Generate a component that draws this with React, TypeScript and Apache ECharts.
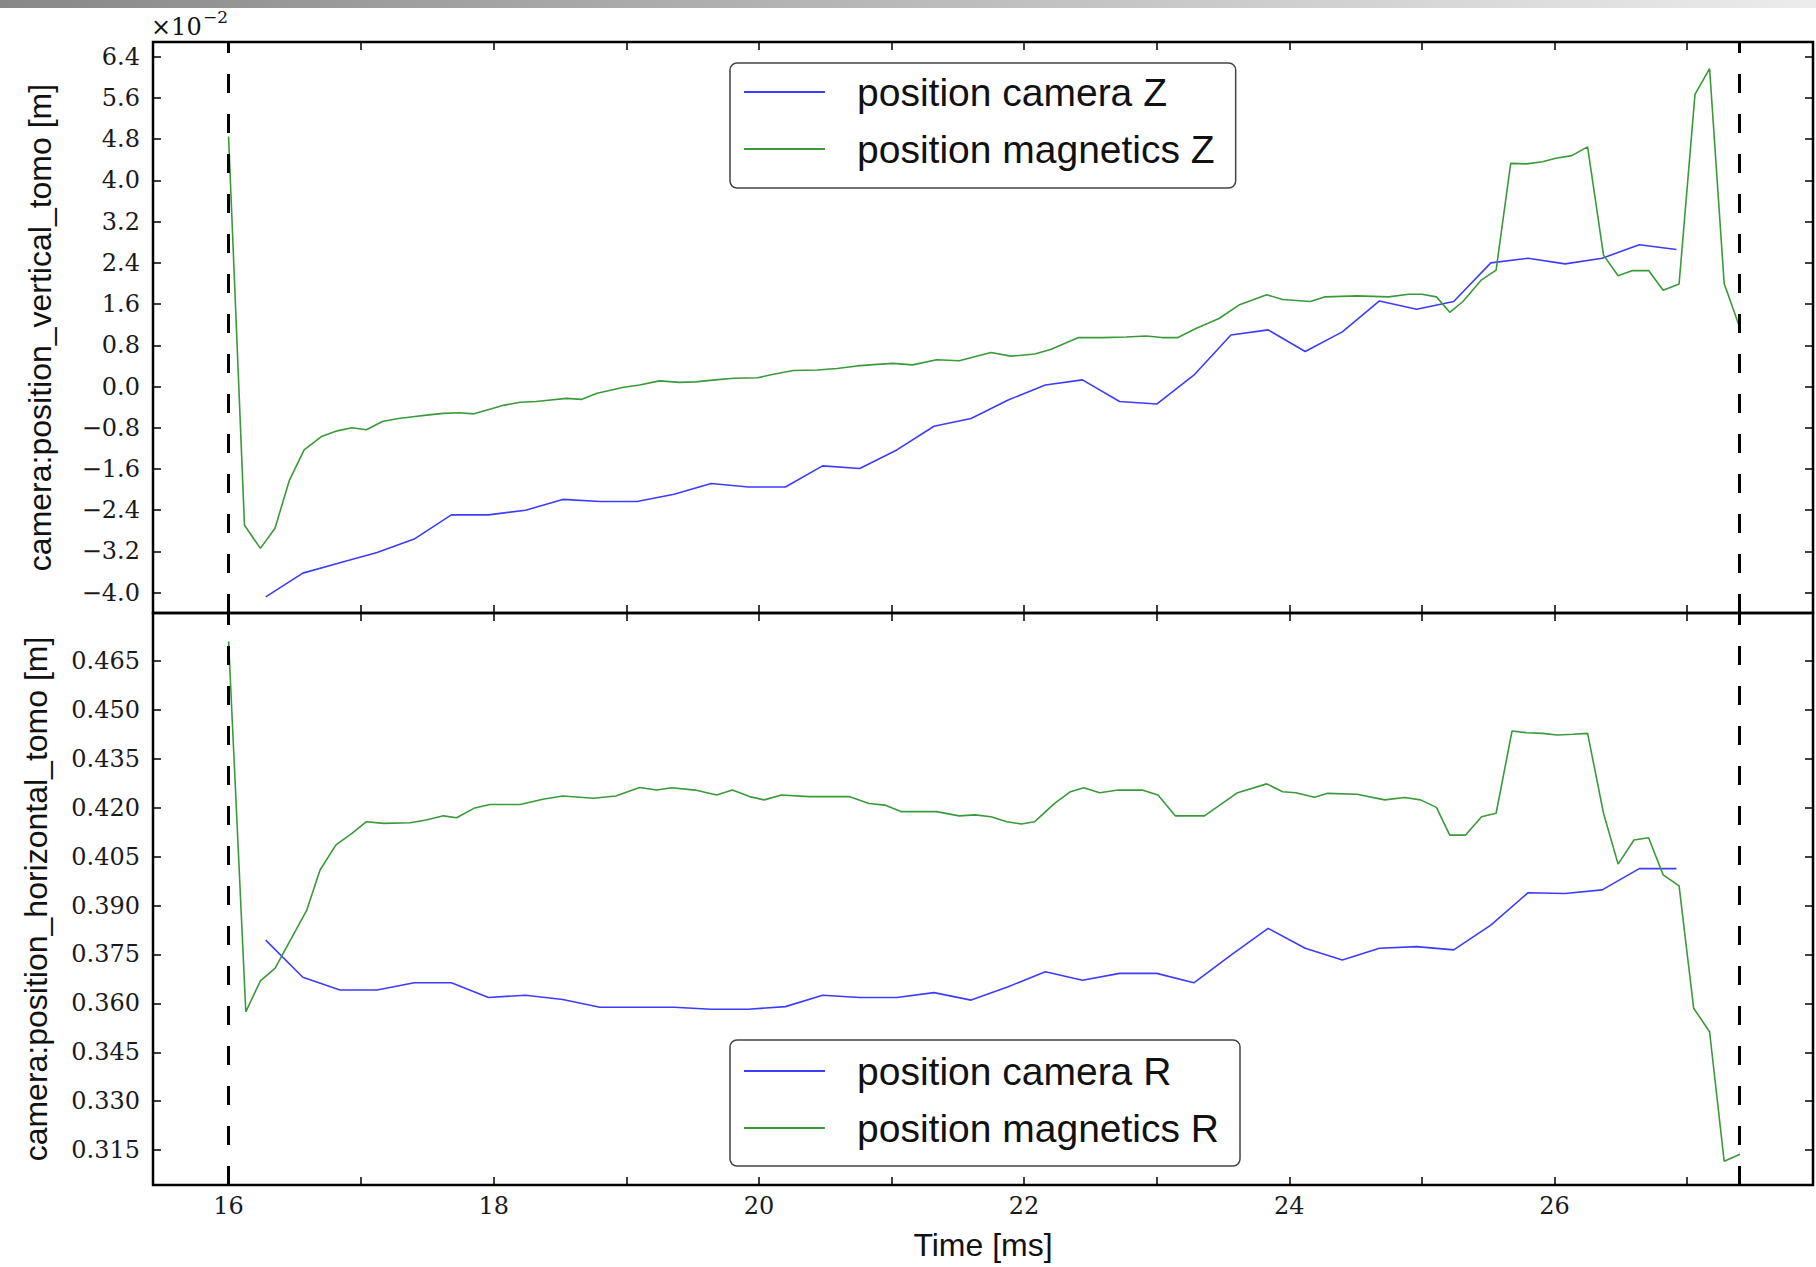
import React, { useEffect, useRef } from "react";
import * as echarts from "echarts";

// Camera samples (time in ms)
const camTime = [16.28, 16.56, 16.84, 17.12, 17.4, 17.68, 17.96, 18.24, 18.52, 18.8, 19.08, 19.36, 19.64, 19.92, 20.2, 20.48, 20.76, 21.04, 21.32, 21.6, 21.88, 22.16, 22.44, 22.72, 23.0, 23.28, 23.56, 23.84, 24.12, 24.4, 24.68, 24.96, 25.24, 25.52, 25.8, 26.08, 26.36, 26.64, 26.92];
// vertical position, in units of 1e-2 m
const camZ = [-4.08, -3.62, -3.42, -3.22, -2.96, -2.49, -2.49, -2.4, -2.19, -2.23, -2.23, -2.09, -1.88, -1.95, -1.95, -1.54, -1.59, -1.23, -0.77, -0.62, -0.26, 0.03, 0.13, -0.29, -0.34, 0.22, 1.0, 1.1, 0.68, 1.06, 1.66, 1.5, 1.65, 2.4, 2.49, 2.38, 2.49, 2.75, 2.66];
// horizontal position, m
const camR = [0.3794, 0.368, 0.3641, 0.3641, 0.3663, 0.3663, 0.3618, 0.3625, 0.3612, 0.3588, 0.3588, 0.3588, 0.3582, 0.3582, 0.359, 0.3625, 0.3618, 0.3618, 0.3633, 0.361, 0.3651, 0.3697, 0.3671, 0.3692, 0.3692, 0.3663, 0.3748, 0.383, 0.3769, 0.3733, 0.3769, 0.3774, 0.3764, 0.384, 0.3939, 0.3937, 0.3948, 0.4013, 0.4013];

// Magnetics Z samples
const magZTime = [16.0, 16.12, 16.24, 16.35, 16.46, 16.57, 16.7, 16.82, 16.93, 17.04, 17.16, 17.28, 17.39, 17.51, 17.62, 17.74, 17.85, 17.97, 18.08, 18.2, 18.32, 18.43, 18.55, 18.66, 18.78, 18.98, 19.1, 19.25, 19.4, 19.52, 19.67, 19.81, 19.99, 20.11, 20.26, 20.44, 20.59, 20.74, 20.89, 21.01, 21.16, 21.34, 21.51, 21.75, 21.9, 22.08, 22.2, 22.41, 22.59, 22.77, 22.92, 23.04, 23.16, 23.3, 23.47, 23.62, 23.83, 23.95, 24.16, 24.27, 24.51, 24.75, 24.9, 25.0, 25.11, 25.21, 25.31, 25.45, 25.56, 25.67, 25.79, 25.91, 26.01, 26.13, 26.25, 26.37, 26.48, 26.59, 26.71, 26.82, 26.94, 27.06, 27.17, 27.28, 27.39];
const magZ = [4.85, -2.69, -3.14, -2.75, -1.81, -1.23, -0.97, -0.86, -0.8, -0.84, -0.68, -0.62, -0.585, -0.55, -0.52, -0.51, -0.53, -0.44, -0.36, -0.305, -0.29, -0.26, -0.23, -0.25, -0.13, -0.015, 0.03, 0.11, 0.08, 0.09, 0.13, 0.16, 0.17, 0.24, 0.31, 0.32, 0.35, 0.4, 0.43, 0.45, 0.42, 0.52, 0.5, 0.66, 0.59, 0.63, 0.72, 0.95, 0.95, 0.96, 0.98, 0.95, 0.95, 1.13, 1.32, 1.58, 1.78, 1.69, 1.65, 1.74, 1.76, 1.74, 1.79, 1.79, 1.74, 1.44, 1.65, 2.07, 2.26, 4.33, 4.32, 4.36, 4.43, 4.48, 4.65, 2.55, 2.15, 2.25, 2.25, 1.87, 1.99, 5.67, 6.17, 2.0, 1.2];

// Magnetics R samples
const magRTime = [16.0, 16.13, 16.24, 16.35, 16.59, 16.69, 16.81, 16.93, 17.04, 17.17, 17.37, 17.49, 17.62, 17.72, 17.85, 17.97, 18.2, 18.37, 18.52, 18.75, 18.92, 19.1, 19.23, 19.34, 19.52, 19.68, 19.8, 19.93, 20.04, 20.17, 20.38, 20.68, 20.83, 20.95, 21.07, 21.34, 21.51, 21.63, 21.75, 21.87, 21.98, 22.08, 22.23, 22.35, 22.45, 22.57, 22.71, 22.89, 23.01, 23.14, 23.36, 23.61, 23.83, 23.95, 24.05, 24.19, 24.29, 24.51, 24.72, 24.87, 24.99, 25.11, 25.21, 25.33, 25.45, 25.56, 25.68, 25.79, 25.91, 26.02, 26.14, 26.25, 26.37, 26.48, 26.6, 26.71, 26.82, 26.94, 27.05, 27.17, 27.28, 27.4];
const magR = [0.471, 0.3574, 0.3669, 0.3707, 0.3886, 0.4009, 0.4086, 0.4121, 0.4157, 0.4152, 0.4154, 0.4162, 0.4175, 0.4169, 0.4198, 0.421, 0.421, 0.4226, 0.4236, 0.4229, 0.4236, 0.4262, 0.4254, 0.4261, 0.4254, 0.4239, 0.4254, 0.4234, 0.4224, 0.4239, 0.4234, 0.4234, 0.4213, 0.4208, 0.4188, 0.4188, 0.4175, 0.4178, 0.4172, 0.4157, 0.415, 0.4157, 0.4213, 0.4249, 0.4261, 0.4246, 0.4254, 0.4254, 0.4239, 0.4175, 0.4175, 0.4246, 0.4273, 0.4249, 0.4246, 0.4232, 0.4244, 0.4241, 0.4224, 0.4231, 0.4224, 0.4201, 0.4116, 0.4116, 0.4172, 0.4183, 0.4435, 0.443, 0.4428, 0.4423, 0.4425, 0.4428, 0.4183, 0.4027, 0.4101, 0.4108, 0.3994, 0.396, 0.3585, 0.3513, 0.3116, 0.3137];

// Time window markers (dashed lines)
const windowMarks = [16.0, 27.39];

// Ticks
const xTicks = [16, 17, 18, 19, 20, 21, 22, 23, 24, 25, 26, 27];
const xLabels = [16, 18, 20, 22, 24, 26];
const zTicks = [-4.0, -3.2, -2.4, -1.6, -0.8, 0.0, 0.8, 1.6, 2.4, 3.2, 4.0, 4.8, 5.6, 6.4];
const rTicks = [0.315, 0.33, 0.345, 0.36, 0.375, 0.39, 0.405, 0.42, 0.435, 0.45, 0.465];

const X_MIN = 15.43;
const X_MAX = 27.95;
const Z_MIN = -4.394;
const Z_MAX = 6.685;
const R_MIN = 0.3043;
const R_MAX = 0.4797;

const BLUE = "#3c3cff";
const GREEN = "#3a9a3a";
const SERIF = "'DejaVu Serif', serif";
const SANS = "'Liberation Sans', Arial, sans-serif";

const fmtMinus = (v: number, d: number) => {
  const s = Math.abs(v).toFixed(d);
  return v < -1e-9 ? "\u2212" + s : s;
};

const tick = (values: number[]) => ({
  show: true,
  inside: true,
  length: 8,
  customValues: values,
  lineStyle: { color: "#000", width: 1.5 },
});

function buildOption() {
  const zip = (a: number[], b: number[]) => a.map((t, i) => [t, b[i]]);
  const labelStyle = { fontFamily: SERIF, fontSize: 24, color: "#1a1a1a" };

  const xAxes = [
    { gridIndex: 0, position: "bottom", showLabels: false },
    { gridIndex: 0, position: "top", showLabels: false },
    { gridIndex: 1, position: "bottom", showLabels: true },
    { gridIndex: 1, position: "top", showLabels: false },
  ].map((a) => ({
    type: "value",
    gridIndex: a.gridIndex,
    position: a.position,
    min: X_MIN,
    max: X_MAX,
    axisLine: { show: false, onZero: false },
    splitLine: { show: false },
    axisTick: tick(xTicks),
    axisLabel: a.showLabels
      ? { show: true, customValues: xLabels, margin: 9, ...labelStyle, formatter: (v: number) => String(Math.round(v)) }
      : { show: false },
    ...(a.showLabels
      ? {
          name: "Time [ms]",
          nameLocation: "middle",
          nameGap: 44,
          nameTextStyle: { fontFamily: SANS, fontSize: 32, color: "#111" },
        }
      : {}),
  }));

  const yAxes = [
    { gridIndex: 0, position: "left", labels: true, min: Z_MIN, max: Z_MAX, ticks: zTicks, d: 1, name: "camera:position_vertical_tomo [m]", gap: 97 },
    { gridIndex: 0, position: "right", labels: false, min: Z_MIN, max: Z_MAX, ticks: zTicks, d: 1, name: "", gap: 0 },
    { gridIndex: 1, position: "left", labels: true, min: R_MIN, max: R_MAX, ticks: rTicks, d: 3, name: "camera:position_horizontal_tomo [m]", gap: 101 },
    { gridIndex: 1, position: "right", labels: false, min: R_MIN, max: R_MAX, ticks: rTicks, d: 3, name: "", gap: 0 },
  ].map((a) => ({
    type: "value",
    gridIndex: a.gridIndex,
    position: a.position,
    min: a.min,
    max: a.max,
    axisLine: { show: false, onZero: false },
    splitLine: { show: false },
    axisTick: tick(a.ticks),
    axisLabel: a.labels
      ? { show: true, customValues: a.ticks, margin: 13, ...labelStyle, formatter: (v: number) => fmtMinus(v, a.d) }
      : { show: false },
    ...(a.name
      ? {
          name: a.name,
          nameLocation: "middle",
          nameRotate: 90,
          nameGap: a.gap,
          nameTextStyle: { fontFamily: SANS, fontSize: 32, color: "#111" },
        }
      : {}),
  }));

  const markLine = {
    silent: true,
    symbol: ["none", "none"],
    label: { show: false },
    lineStyle: { color: "#000", width: 3, type: [19, 21] },
    emphasis: { disabled: true },
    data: windowMarks.map((v) => ({ xAxis: v })),
    z: 10,
  };

  const lineSeries = (name: string, data: number[][], color: string, xi: number, yi: number, withMarks: boolean) => ({
    name,
    type: "line",
    xAxisIndex: xi,
    yAxisIndex: yi,
    data,
    symbol: "none",
    showSymbol: false,
    color,
    lineStyle: { color, width: 1.6 },
    emphasis: { disabled: true },
    z: 3,
    ...(withMarks ? { markLine } : {}),
  });

  const legendBase = {
    orient: "vertical",
    icon: "rect",
    itemWidth: 81,
    itemHeight: 1.8,
    itemGap: 11,
    selectedMode: false,
    backgroundColor: "#fff",
    borderColor: "#444",
    borderWidth: 1.5,
    borderRadius: 7,
    textStyle: { fontFamily: SANS, fontSize: 39, color: "#111", lineHeight: 46, padding: [0, 0, 0, 27] },
  };

  return {
    animation: false,
    backgroundColor: "#fff",
    grid: [
      { left: 153, top: 42, width: 1660, height: 571, show: true, borderColor: "#000", borderWidth: 2.5, backgroundColor: "transparent" },
      { left: 153, top: 613, width: 1660, height: 572, show: true, borderColor: "#000", borderWidth: 2.5, backgroundColor: "transparent" },
    ],
    xAxis: xAxes,
    yAxis: yAxes,
    legend: [
      { ...legendBase, data: ["position camera Z", "position magnetics Z"], left: 730, top: 63, padding: [6, 21, 16, 14] },
      { ...legendBase, data: ["position camera R", "position magnetics R"], left: 730, top: 1040, padding: [8, 21, 15, 14] },
    ],
    series: [
      lineSeries("position camera Z", zip(camTime, camZ), BLUE, 0, 0, false),
      lineSeries("position magnetics Z", zip(magZTime, magZ), GREEN, 0, 0, true),
      lineSeries("position camera R", zip(camTime, camR), BLUE, 2, 2, false),
      lineSeries("position magnetics R", zip(magRTime, magR), GREEN, 2, 2, true),
    ],
    graphic: [
      {
        type: "rect",
        left: 0,
        top: 0,
        silent: true,
        shape: { width: 1816, height: 8 },
        style: {
          fill: new echarts.graphic.LinearGradient(0, 0, 1, 0, [
            { offset: 0, color: "#888888" },
            { offset: 1, color: "#ececec" },
          ]),
        },
      },
      { type: "text", left: 151, top: 15, silent: true, style: { text: "\u00d710", font: "24px 'DejaVu Serif'", fill: "#111" } },
      { type: "text", left: 203, top: 8, silent: true, style: { text: "\u22122", font: "17px 'DejaVu Serif'", fill: "#111" } },
    ],
  };
}

export default function App() {
  const ref = useRef<HTMLDivElement>(null);
  useEffect(() => {
    if (!ref.current) return;
    const chart = echarts.init(ref.current, null, { renderer: "svg" });
    chart.setOption(buildOption() as any);
    return () => chart.dispose();
  }, []);
  return (
    <div
      ref={ref}
      style={{ position: "fixed", left: 0, top: 0, width: 1816, height: 1267, background: "#fff" }}
    />
  );
}
